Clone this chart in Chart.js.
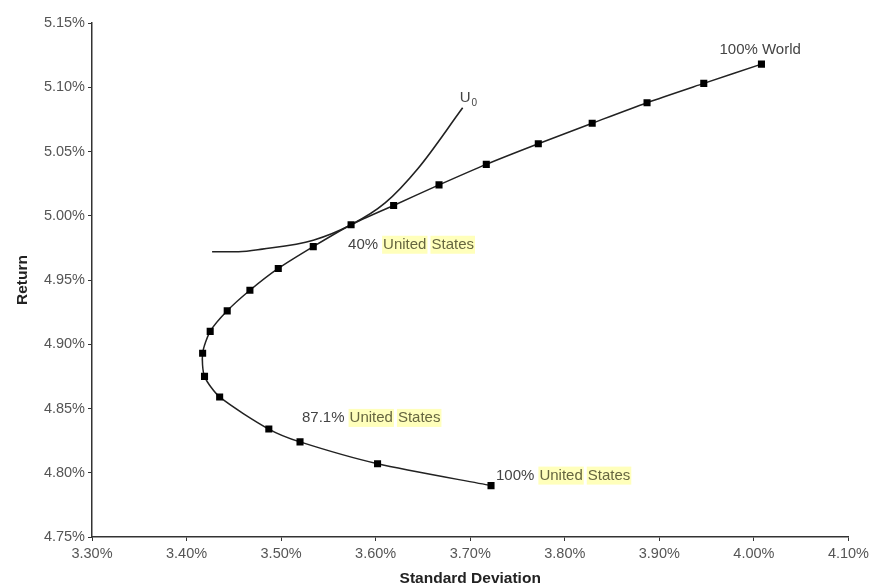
<!DOCTYPE html>
<html>
<head>
<meta charset="utf-8">
<script src="https://cdn.jsdelivr.net/npm/chart.js@4.4.0/dist/chart.umd.min.js"></script>
<style>
  html, body { margin: 0; padding: 0; background: #fff; }
  #wrap { width: 873px; height: 588px; }
</style>
</head>
<body>
<div id="wrap"><canvas id="chart" width="873" height="588"></canvas></div>
<script>
// --- Data (percent) ---
// frontier points, from 100% World down to 100% United States
const frontierSd  = [4.008, 3.947, 3.887, 3.829, 3.772, 3.717, 3.667, 3.619, 3.574, 3.534, 3.497,
                     3.467, 3.443, 3.425, 3.417, 3.419, 3.435, 3.487, 3.520, 3.602, 3.722];
const frontierRet = [5.118, 5.103, 5.088, 5.072, 5.056, 5.040, 5.024, 5.008, 4.993, 4.976, 4.959,
                     4.942, 4.926, 4.910, 4.893, 4.875, 4.859, 4.834, 4.824, 4.807, 4.790];

// indifference curve U0
const u0Sd  = [3.427, 3.455, 3.480, 3.534, 3.574, 3.610, 3.645, 3.692];
const u0Ret = [4.972, 4.972, 4.974, 4.981, 4.993, 5.010, 5.037, 5.084];

// axis ranges / tick steps
const xMin = 3.30, xMax = 4.10, xStep = 0.10;
const yMin = 4.75, yMax = 5.15, yStep = 0.05;

const xTitle = 'Standard Deviation';
const yTitle = 'Return';

// text notes: [lead text, highlighted words, series, point index]
const notes = [
  ['100% World', [], 'frontier', 0],
  ['40%', ['United', 'States'], 'frontier', 8],
  ['87.1%', ['United', 'States'], 'frontier', 18],
  ['100%', ['United', 'States'], 'frontier', 20],
  ['U', ['0'], 'u0', 7]
];

const FONT = '"Liberation Sans", Arial, sans-serif';

function toPoints(xs, ys) {
  return xs.map((x, i) => ({ x: x, y: ys[i] }));
}

// --- notes plugin ---
const noteOffsets = [[-42, -14], [-3, 20], [2, -24], [5, -10], [-3, -10]];

const notesPlugin = {
  id: 'notes',
  afterDatasetsDraw(chart) {
    const ctx = chart.ctx;
    const xs = chart.scales.x, ys = chart.scales.y;
    ctx.save();
    ctx.textBaseline = 'middle';
    ctx.textAlign = 'left';
    notes.forEach((n, k) => {
      const src = n[2] === 'frontier' ? [frontierSd, frontierRet] : [u0Sd, u0Ret];
      const px = xs.getPixelForValue(src[0][n[3]]) + noteOffsets[k][0];
      const py = ys.getPixelForValue(src[1][n[3]]) + noteOffsets[k][1];
      ctx.font = '15px ' + FONT;
      ctx.fillStyle = '#444';
      ctx.fillText(n[0], px, py);
      let x = px + ctx.measureText(n[0]).width;
      if (n[0] === 'U') {
        // subscript
        ctx.font = '10px ' + FONT;
        ctx.fillText(n[1][0], x + 1, py + 5);
        return;
      }
      n[1].forEach(word => {
        x += 5;
        const w = ctx.measureText(word).width;
        ctx.fillStyle = '#ffffbb';
        ctx.fillRect(x - 1, py - 9, w + 2, 18);
        ctx.fillStyle = '#666640';
        ctx.fillText(word, x, py);
        x += w;
      });
    });
    ctx.restore();
  }
};

const ctx = document.getElementById('chart').getContext('2d');
new Chart(ctx, {
  type: 'scatter',
  data: {
    datasets: [
      {
        label: 'Frontier',
        data: toPoints(frontierSd, frontierRet),
        showLine: true,
        borderColor: '#222',
        borderWidth: 1.5,
        pointStyle: 'rect',
        pointRadius: 5,
        pointBackgroundColor: '#000',
        pointBorderColor: '#000',
        pointBorderWidth: 0,
        tension: 0.25
      },
      {
        label: 'U0',
        data: toPoints(u0Sd, u0Ret),
        showLine: true,
        borderColor: '#222',
        borderWidth: 1.6,
        pointRadius: 0,
        cubicInterpolationMode: 'monotone'
      }
    ]
  },
  options: {
    responsive: false,
    devicePixelRatio: 1,
    animation: false,
    layout: { padding: { top: 23, right: 16, left: 0, bottom: 0 } },
    plugins: {
      legend: { display: false },
      tooltip: { enabled: false }
    },
    scales: {
      x: {
        type: 'linear',
        min: xMin,
        max: xMax,
        afterFit: s => { s.height = 51; },
        border: { display: true, color: '#333', width: 1.5 },
        grid: { display: true, drawOnChartArea: false, drawTicks: true, tickLength: 4, color: '#333' },
        ticks: {
          stepSize: xStep,
          padding: 4,
          color: '#555',
          font: { family: FONT, size: 14.5 },
          callback: v => v.toFixed(2) + '%'
        },
        title: {
          display: true,
          text: xTitle,
          color: '#222',
          font: { family: FONT, size: 15.5, weight: 'bold' },
          padding: { top: 0, bottom: 0 }
        }
      },
      y: {
        type: 'linear',
        min: yMin,
        max: yMax,
        afterFit: s => { s.width = 92; },
        border: { display: true, color: '#333', width: 1.5 },
        grid: { display: true, drawOnChartArea: false, drawTicks: true, tickLength: 4, color: '#333' },
        ticks: {
          stepSize: yStep,
          padding: 3,
          color: '#555',
          font: { family: FONT, size: 14.5 },
          callback: v => v.toFixed(2) + '%'
        },
        title: {
          display: true,
          text: yTitle,
          color: '#222',
          font: { family: FONT, size: 15.5, weight: 'bold' },
          padding: { top: 13, bottom: 0 }
        }
      }
    }
  },
  plugins: [notesPlugin]
});
</script>
</body>
</html>
